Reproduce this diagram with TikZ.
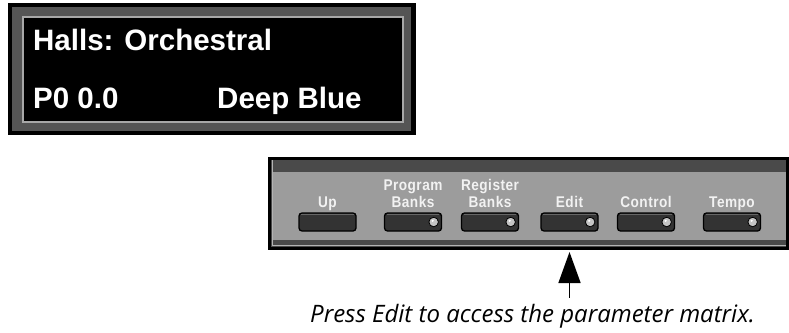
\documentclass[tikz,border=0pt]{standalone}
\usepackage{fontspec}
\setmainfont{Liberation Sans}
\newfontfamily\capfont{Open Sans}
\definecolor{lcdband}{HTML}{555555}
\definecolor{lcdedge}{HTML}{A8A8A8}
\definecolor{panelband}{HTML}{4A4A4A}
\definecolor{panelface}{HTML}{9C9C9C}
\definecolor{paneledge}{HTML}{B4B4B4}
\definecolor{btnfill}{HTML}{333333}
\definecolor{btnshine}{HTML}{666666}
\definecolor{ledgray}{HTML}{C4C4C4}
\definecolor{keytext}{HTML}{F2F2F2}
\usetikzlibrary{arrows.meta,positioning,calc}

\begin{document}
\begin{tikzpicture}[x=1pt,y=-1pt,
  >={Triangle[length=31pt,width=22pt]},
  slab/.style={rectangle,inner sep=0pt,outer sep=0pt},
  lcdtext/.style={text=white,font=\fontsize{29.5}{32}\selectfont\bfseries,
    anchor=base west,inner sep=0pt},
  button/.style={draw=black,line width=1.3pt,fill=btnfill,rounded corners=3pt,
    minimum width=57pt,minimum height=18pt,inner sep=0pt},
  led/.style={circle,draw=black,line width=0.8pt,fill=ledgray,
    minimum size=9.5pt,inner sep=0pt},
  keylabel/.style={text=keytext,
    font=\addfontfeatures{FakeStretch=0.88,LetterSpace=3}\fontsize{15.5}{17}\selectfont\bfseries,
    align=center,anchor=south,inner sep=0pt,text depth=0pt},
  caption/.style={font=\capfont\itshape\fontsize{24}{28}\selectfont,
    anchor=base,inner sep=0pt}]
  \useasboundingbox (0,0) rectangle (789,332);

  \node[slab,fill=black,minimum width=408pt,minimum height=132pt] (lcd) at (212,69) {};
  \node[slab,fill=lcdband,minimum width=399pt,minimum height=124pt] (lcdband) at (211.5,69) {};
  \node[slab,fill=black,draw=lcdedge,line width=1.2pt,
    minimum width=380pt,minimum height=105pt] (screen) at (213,69.5) {};
  \node[lcdtext] (title) at (33,50) {Halls: Orchestral};
  \node[lcdtext] (param) at (33,108) {P0 0.0};
  \node[lcdtext] (value) at (217,108) {Deep Blue};

  \node[slab,fill=black,minimum width=521pt,minimum height=93pt] (panel) at (528.5,203.5) {};
  \node[slab,fill=panelband,minimum width=515pt,minimum height=87pt] (panelband) at (528.5,203.5) {};
  \node[slab,fill=panelface,minimum width=513pt,minimum height=68pt] (face) at (529.5,206) {};
  \draw[paneledge,line width=0.8pt] (panelband.south west) ++(1,-2) -- ($(panelband.south east)+(0,-2)$);
  \draw[paneledge,line width=0.8pt] (panelband.north west) ++(1,0) -- ++(0,85);

  \foreach \name/\x/\label in {up/327.5/Up,progbanks/413/Program\\Banks,
      regbanks/490/Register\\Banks,edit/569.5/Edit,control/646/Control,tempo/732/Tempo}{
    \node[button] (\name) at (\x,222) {};
    \draw[btnshine,line width=0.8pt] ($(\name.north west)+(3,2.2)$) -- ($(\name.north east)+(-3,2.2)$);
    \node[keylabel] (\name-label) at (\x,207.5) {\label};
  }
  \foreach \name in {progbanks,regbanks,edit,control,tempo}{
    \node[led] (\name-led) at ($(\name.east)+(-8.5,0)$) {};
    \fill[white] ($(\name-led.center)+(-1,-1.2)$) circle (1.2pt);
  }

  \node[caption] (caption) at (532.5,322) {Press Edit to access the parameter matrix.};
  \coordinate (tail) at (caption.north -| edit);
  \draw[->,line width=1.5pt,shorten >=2pt] ($(tail)+(0,-6)$) -- (edit |- panel.south);
\end{tikzpicture}
\end{document}
